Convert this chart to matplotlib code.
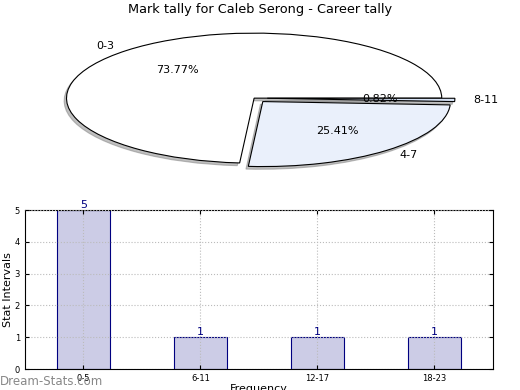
import numpy as np
import matplotlib
matplotlib.use("Agg")
import matplotlib.pyplot as plt

# Pie data
pie_labels = ["0-3", "4-7", "8-11"]
pie_values = [73.77, 25.41, 0.82]
pie_colors = ["#ffffff", "#eaf0fb", "#d6e2f5"]

# Bar data
bar_labels = ["0-5", "6-11", "12-17", "18-23"]
bar_values = [5, 1, 1, 1]

fig = plt.figure(figsize=(5.2, 3.9), dpi=100)

# pie chart (not equal aspect -> elliptical)
ax1 = fig.add_axes([0.0377, 0.540, 0.902, 0.4167])
wedges, texts, autotexts = ax1.pie(pie_values, labels=pie_labels, colors=pie_colors,
                                   explode=(0, 0.07, 0.07), autopct="%.2f%%",
                                   shadow={"ox": -0.009, "oy": -0.03, "color": "#808080"},
                                   startangle=0, counterclock=True,
                                   wedgeprops=dict(edgecolor="black", linewidth=0.8),
                                   textprops=dict(fontsize=8))
ax1.set_aspect("auto")
fig.text(0.5, 0.975, "Mark tally for Caleb Serong - Career tally",
         ha="center", va="center", fontsize=9.3)

# bar chart
ax2 = fig.add_axes([0.048, 0.0538, 0.9, 0.4077])
x = np.arange(len(bar_labels))
bars = ax2.bar(x, bar_values, width=0.45, color="#ccccE6", edgecolor="navy", linewidth=0.8)
for xi, v in zip(x, bar_values):
    ax2.text(xi, v, str(v), ha="center", va="bottom", color="navy", fontsize=8)
ax2.set_xlim(-0.5, 3.5)
ax2.set_ylim(0, 5)
ax2.set_xticks(x)
ax2.set_xticklabels(bar_labels)
ax2.tick_params(labelsize=6, direction="in", top=True, right=True, length=3)
ax2.grid(True, linestyle=":", color="#bbbbbb", linewidth=0.8)
ax2.set_axisbelow(False)
ax2.set_ylabel("Stat Intervals", fontsize=8, labelpad=1)
ax2.set_xlabel("Frequency", fontsize=8, labelpad=1)

fig.text(0.0, 0.022, "Dream-Stats.com", color="#888888", fontsize=8.5,
         ha="left", va="center")

plt.savefig("out.png", dpi=100)
